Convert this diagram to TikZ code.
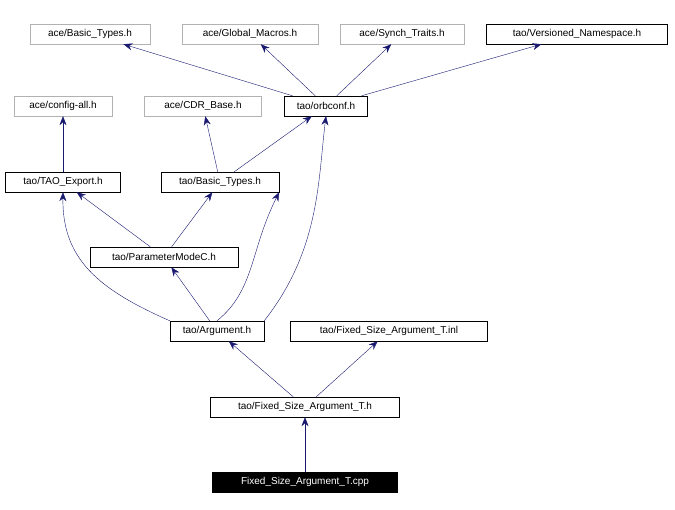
\documentclass[tikz,border=0pt]{standalone}
\usepackage{fontspec}
\setmainfont{Liberation Sans}
\usetikzlibrary{arrows.meta}
\begin{document}
\begin{tikzpicture}[x=1pt,y=-1pt,
 box/.style={draw=black,fill=white,minimum height=20,inner sep=2,font=\fontsize{10}{12}\selectfont},
 gbox/.style={box,draw=gray!60},
 dbox/.style={box,fill=black,text=white},
 e/.style={draw={rgb,255:red,25;green,25;blue,112},-{Stealth[length=9,width=7]}}]
\useasboundingbox (0,0) rectangle (675,510);
\node[gbox,minimum width=120] (abt) at (90,34) {ace/Basic\_Types.h};
\node[gbox,minimum width=136] (agm) at (250,34) {ace/Global\_Macros.h};
\node[gbox,minimum width=124] (ast) at (402,34) {ace/Synch\_Traits.h};
\node[box,minimum width=181] (tvn) at (577,34) {tao/Versioned\_Namespace.h};
\node[gbox,minimum width=98] (aca) at (63,106) {ace/config-all.h};
\node[gbox,minimum width=117] (acdr) at (203,106) {ace/CDR\_Base.h};
\node[box,minimum width=83] (orb) at (326,106) {tao/orbconf.h};
\node[box,minimum width=115] (tex) at (63,182) {tao/TAO\_Export.h};
\node[box,minimum width=118] (tbt) at (220,182) {tao/Basic\_Types.h};
\node[box,minimum width=148] (pm) at (164,257) {tao/ParameterModeC.h};
\node[box,minimum width=94] (arg) at (217,331) {tao/Argument.h};
\node[box,minimum width=197] (inl) at (389,331) {tao/Fixed\_Size\_Argument\_T.inl};
\node[box,minimum width=189] (fh) at (305,407) {tao/Fixed\_Size\_Argument\_T.h};
\node[dbox,minimum width=185] (cpp) at (305,482) {Fixed\_Size\_Argument\_T.cpp};
\draw[e] (orb) -- (abt);
\draw[e] (orb) -- (agm);
\draw[e] (orb) -- (ast);
\draw[e] (orb) -- (tvn);
\draw[e] (tbt) -- (acdr);
\draw[e] (tbt) -- (orb);
\draw[e] (tex) -- (aca);
\draw[e] (pm) -- (tex);
\draw[e] (pm) -- (tbt);
\draw[e] (arg.north west) .. controls (100,290) and (62,260) .. (tex.south);
\draw[e] (arg) -- (pm);
\draw[e] (arg.north) .. controls (255,290) and (250,250) .. (tbt.south east);
\draw[e] (arg.north east) .. controls (320,250) and (318,180) .. (orb.south);
\draw[e] (fh) -- (arg);
\draw[e] (fh) -- (inl);
\draw[e] (cpp) -- (fh);
\end{tikzpicture}
\end{document}
